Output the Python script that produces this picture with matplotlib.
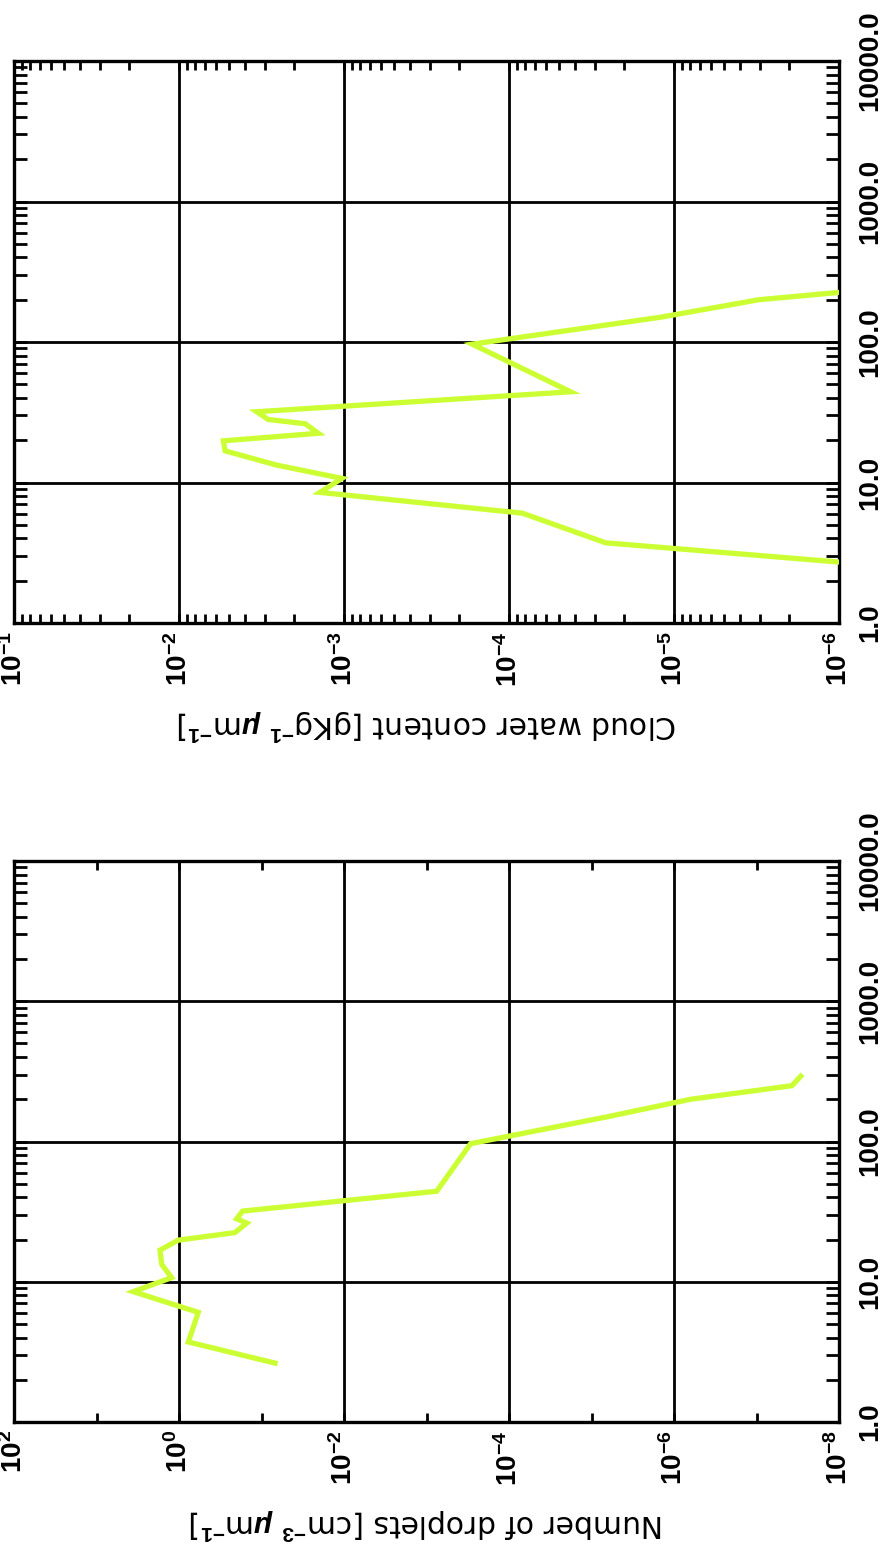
import matplotlib
matplotlib.use("Agg")
import matplotlib.pyplot as plt
from matplotlib.ticker import FixedLocator, FixedFormatter, NullFormatter, LogLocator

# ---------------- data ----------------
diameter_um = [2.63, 3.72, 6.05, 8.5, 10.7, 13.3, 16.8, 19.8, 22.4, 26.2,
               28.1, 31.9, 44.2, 96.5, 150.0, 200.0, 250.0, 292.0]

number_droplets = [6.85e-2, 7.71e-1, 5.83e-1, 3.58, 1.23, 1.62, 1.70, 1.02,
                   2.10e-1, 1.51e-1, 2.00e-1, 1.70e-1, 7.52e-4, 2.92e-4,
                   6.46e-6, 6.30e-7, 3.72e-8, 2.91e-8]

cloud_water = [7.2e-7, 2.59e-5, 8.30e-5, 1.40e-3, 1.03e-3, 2.56e-3, 5.26e-3,
               5.38e-3, 1.43e-3, 1.72e-3, 2.88e-3, 3.38e-3, 4.23e-5, 1.67e-4,
               1.21e-5, 3.05e-6, 3.8e-7, 4.5e-7]

diam_ticks = [1.0, 10.0, 100.0, 1000.0, 10000.0]
diam_labels = ["1.0", "10.0", "100.0", "1000.0", "10000.0"]

num_major = [1e2, 1e0, 1e-2, 1e-4, 1e-6, 1e-8]
num_labels = [r"$10^{2}$", r"$10^{0}$", r"$10^{-2}$", r"$10^{-4}$", r"$10^{-6}$", r"$10^{-8}$"]
num_minor = [1e1, 1e-1, 1e-3, 1e-5, 1e-7]

cwc_major = [1e-1, 1e-2, 1e-3, 1e-4, 1e-5, 1e-6]
cwc_labels = [r"$10^{-1}$", r"$10^{-2}$", r"$10^{-3}$", r"$10^{-4}$", r"$10^{-5}$", r"$10^{-6}$"]

num_label = r"Number of droplets [cm$^{-3}$ $\mu$m$^{-1}$]"
cwc_label = r"Cloud water content [gKg$^{-1}$ $\mu$m$^{-1}$]"

# ---------------- style ----------------
plt.rcParams["font.family"] = ["Liberation Sans", "DejaVu Sans"]
plt.rcParams["font.weight"] = "bold"
plt.rcParams["mathtext.fontset"] = "custom"
plt.rcParams["mathtext.rm"] = "Liberation Sans:bold"
plt.rcParams["mathtext.bf"] = "Liberation Sans:bold"
plt.rcParams["mathtext.sf"] = "Liberation Sans:bold"
plt.rcParams["mathtext.it"] = "Liberation Sans:italic:bold"

LINE_COLOR = "#ccff33"
FS_TICK = 20
FS_LABEL = 21.5

W, H = 888, 1564
fig = plt.figure(figsize=(W / 100, H / 100), dpi=100)


def make_panel(rect, values, xmaj, xlabels, xmin_ticks, xlim, label):
    ax = fig.add_axes(rect)
    ax.plot(values, diameter_um, color=LINE_COLOR, lw=3.8, solid_joinstyle="miter",
            zorder=3)
    ax.set_xscale("log")
    ax.set_yscale("log")
    ax.set_xlim(*xlim)
    ax.set_ylim(1.0, 10000.0)

    ax.xaxis.set_major_locator(FixedLocator(xmaj))
    ax.xaxis.set_major_formatter(FixedFormatter(xlabels))
    if xmin_ticks is None:
        ax.xaxis.set_minor_locator(LogLocator(base=10, subs=range(2, 10), numticks=50))
    else:
        ax.xaxis.set_minor_locator(FixedLocator(xmin_ticks))
    ax.xaxis.set_minor_formatter(NullFormatter())

    ax.yaxis.set_major_locator(FixedLocator(diam_ticks))
    ax.yaxis.set_major_formatter(FixedFormatter(diam_labels))
    ax.yaxis.set_minor_locator(LogLocator(base=10, subs=range(2, 10), numticks=50))
    ax.yaxis.set_minor_formatter(NullFormatter())

    ax.grid(True, which="major", color="black", lw=2.0)
    for sp in ax.spines.values():
        sp.set_linewidth(2.4)

    ax.tick_params(axis="both", which="both", direction="in", width=2.0, color="black")
    ax.tick_params(axis="x", which="both", top=True, bottom=True, labelbottom=True,
                   labeltop=False, length=6.5, labelsize=FS_TICK, pad=6, labelrotation=90)
    ax.tick_params(axis="y", which="both", left=True, right=True, labelleft=False,
                   labelright=True, length=9.5, labelsize=FS_TICK, pad=13, labelrotation=90)
    fig.canvas.draw()
    for lab in ax.get_yticklabels():
        lab.set_verticalalignment("center")
        lab.set_horizontalalignment("left")
    for lab in ax.get_xticklabels():
        lab.set_verticalalignment("top")
        lab.set_horizontalalignment("center")

    ax.set_xlabel(label, rotation=180, fontsize=FS_LABEL, labelpad=15,
                  family=["DejaVu Sans"], fontweight="normal")
    return ax


# upper panel in the picture: cloud water content
make_panel([14 / W, 1 - 623 / H, 825 / W, 562 / H], cloud_water, cwc_major, cwc_labels,
           None, (1e-1, 1e-6), cwc_label)

# lower panel in the picture: number of droplets
make_panel([14 / W, 1 - 1422 / H, 825 / W, 561 / H], number_droplets, num_major, num_labels,
           num_minor, (1e2, 1e-8), num_label)

fig.savefig("out.png", dpi=100)
